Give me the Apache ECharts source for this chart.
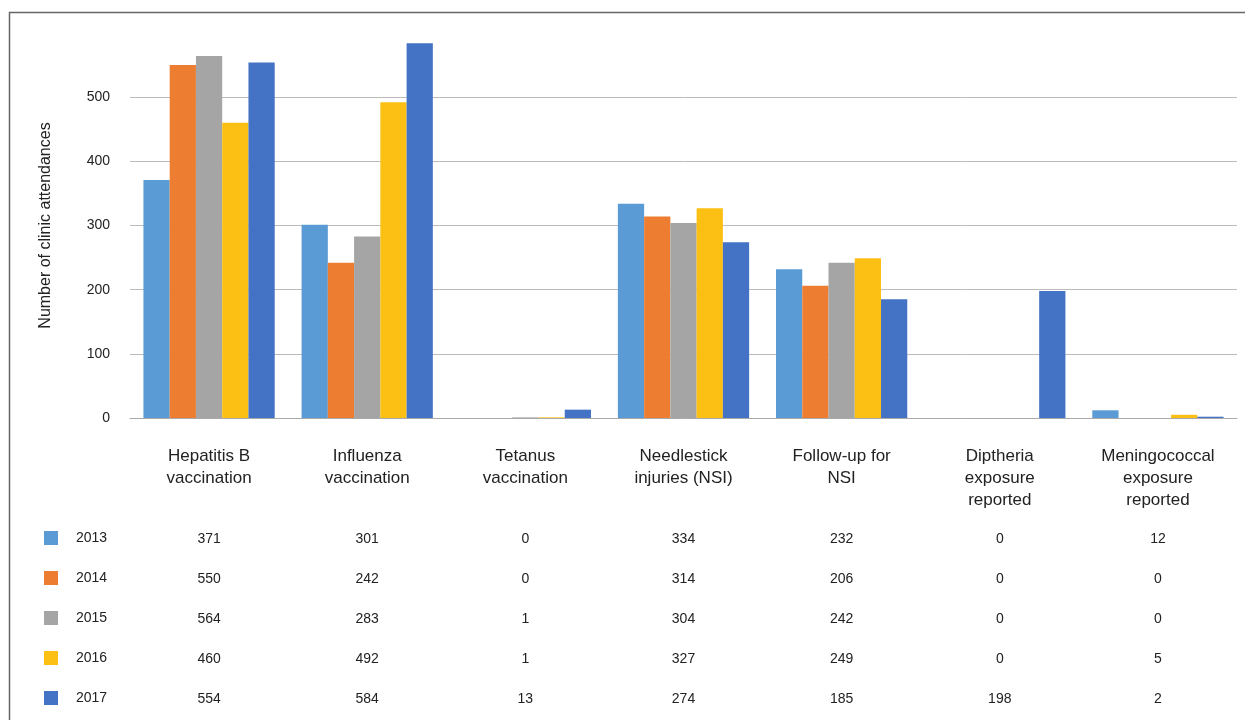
<!DOCTYPE html>
<html>
<head>
<meta charset="utf-8">
<script src="https://cdn.jsdelivr.net/npm/echarts@6/dist/echarts.min.js"></script>
<style>
html,body{margin:0;padding:0;background:#fff;}
#chart{width:1245px;height:720px;}
</style>
</head>
<body>
<div id="chart"></div>
<script>
var categories = ['Hepatitis B\nvaccination', 'Influenza\nvaccination', 'Tetanus\nvaccination',
  'Needlestick\ninjuries (NSI)', 'Follow-up for\nNSI', 'Diptheria\nexposure\nreported', 'Meningococcal\nexposure\nreported'];
var years = ['2013', '2014', '2015', '2016', '2017'];
var v2013 = [371, 301, 0, 334, 232, 0, 12];
var v2014 = [550, 242, 0, 314, 206, 0, 0];
var v2015 = [564, 283, 1, 304, 242, 0, 0];
var v2016 = [460, 492, 1, 327, 249, 0, 5];
var v2017 = [554, 584, 13, 274, 185, 198, 2];
var yTicks = [0, 100, 200, 300, 400, 500];

var values = [v2013, v2014, v2015, v2016, v2017];
var colors = ['#5b9bd5', '#ed7d31', '#a5a5a5', '#fcbf14', '#4472c4'];
var font = 'Liberation Sans';

var chart = echarts.init(document.getElementById('chart'));

// table rows under the axis, one hidden category axis per year
var rowOffsets = [114, 154, 194, 234, 274];
var tableAxes = values.map(function (vals, r) {
  return {
    type: 'category',
    gridIndex: 0,
    position: 'bottom',
    offset: rowOffsets[r],
    data: categories,
    axisLine: {show: false},
    axisTick: {show: false},
    splitLine: {show: false},
    axisLabel: {
      interval: 0,
      margin: 0,
      fontFamily: font,
      fontSize: 14,
      lineHeight: 14,
      color: '#222',
      formatter: function (v, i) { return String(vals[i]); }
    }
  };
});

chart.setOption({
  animation: false,
  color: colors,
  grid: {left: 130, right: 8, top: 33, bottom: 302},
  legend: {
    data: years,
    orient: 'vertical',
    left: 44,
    top: 531,
    padding: 0,
    itemWidth: 14,
    itemHeight: 14,
    itemGap: 26,
    icon: 'rect',
    textStyle: {fontFamily: font, fontSize: 14, color: '#222', padding: [3, 0, 0, 13]}
  },
  xAxis: [{
    type: 'category',
    data: categories,
    axisLine: {lineStyle: {color: '#aaa', width: 1}},
    axisTick: {show: false},
    axisLabel: {
      interval: 0,
      margin: 27,
      fontFamily: font,
      fontSize: 17,
      lineHeight: 22,
      color: '#222'
    }
  }].concat(tableAxes),
  yAxis: {
    type: 'value',
    min: 0,
    max: 600,
    interval: 100,
    name: 'Number of clinic attendances',
    nameLocation: 'middle',
    nameGap: 76,
    nameTextStyle: {fontFamily: font, fontSize: 16, color: '#222'},
    axisLine: {show: false},
    axisTick: {show: false},
    splitLine: {showMaxLine: false, lineStyle: {color: '#bbb', width: 1}},
    axisLabel: {
      showMaxLabel: false,
      margin: 20,
      fontFamily: font,
      fontSize: 14,
      color: '#222',
      formatter: function (v) { return yTicks.indexOf(v) >= 0 ? String(v) : ''; }
    }
  },
  series: values.map(function (vals, r) {
    return {
      name: years[r],
      type: 'bar',
      data: vals,
      barGap: 0,
      barCategoryGap: '17%'
    };
  }),
  graphic: [{
    type: 'rect',
    shape: {x: 9.5, y: 12.5, width: 1300, height: 800},
    style: {fill: 'none', stroke: '#666', lineWidth: 1.5},
    silent: true
  }]
});
</script>
</body>
</html>
